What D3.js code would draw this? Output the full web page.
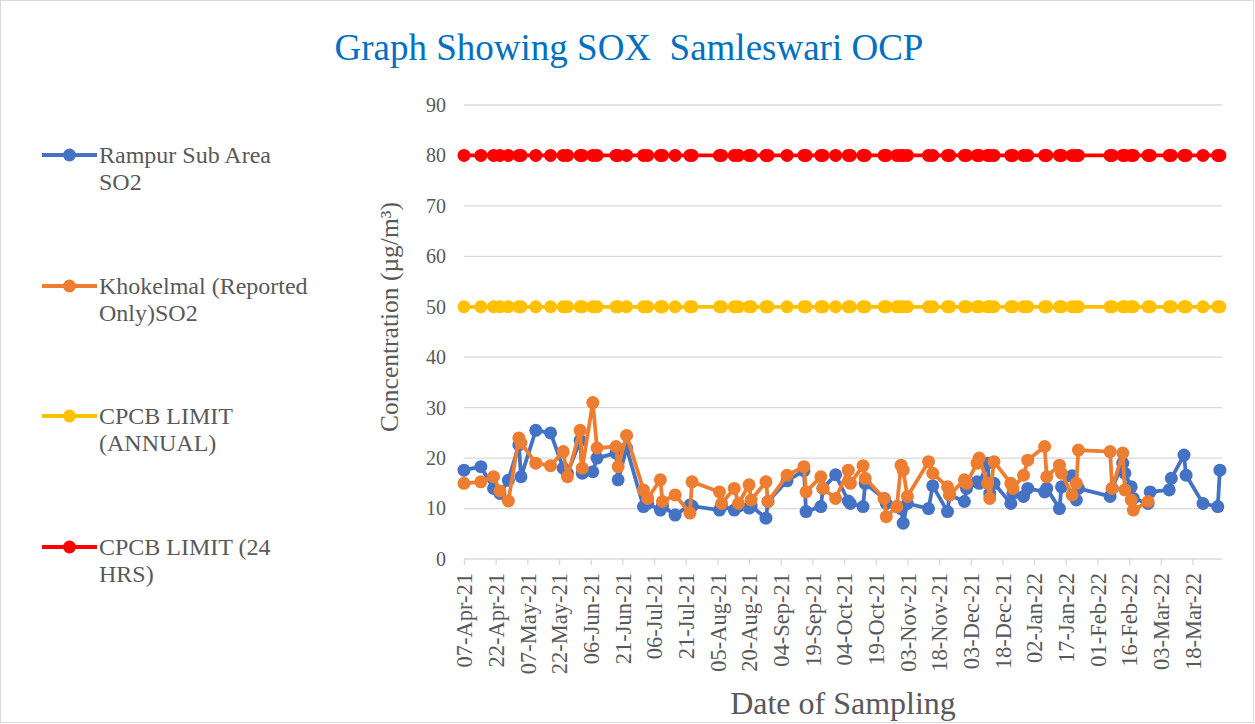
<!DOCTYPE html>
<html><head><meta charset="utf-8">
<script src="https://cdn.jsdelivr.net/npm/d3@7"></script>
<style>
html,body{margin:0;padding:0;background:#fff;}
svg{display:block;}
text{font-family:"Liberation Serif","Times New Roman",serif;}
</style></head><body>
<svg id="chart" width="1255" height="724"></svg>
<script>
const sampleDates = ["2021-04-07","2021-04-15","2021-04-21","2021-04-24","2021-04-28","2021-05-03","2021-05-04","2021-05-11","2021-05-18","2021-05-24","2021-05-26","2021-06-01","2021-06-02","2021-06-07","2021-06-09","2021-06-18","2021-06-19","2021-06-23","2021-07-01","2021-07-03","2021-07-09","2021-07-10","2021-07-16","2021-07-23","2021-07-24","2021-08-06","2021-08-07","2021-08-13","2021-08-15","2021-08-20","2021-08-21","2021-08-28","2021-08-29","2021-09-07","2021-09-15","2021-09-16","2021-09-23","2021-09-24","2021-09-30","2021-10-06","2021-10-07","2021-10-13","2021-10-14","2021-10-23","2021-10-24","2021-10-29","2021-10-31","2021-11-01","2021-11-03","2021-11-13","2021-11-15","2021-11-22","2021-11-23","2021-11-30","2021-12-01","2021-12-06","2021-12-07","2021-12-11","2021-12-12","2021-12-14","2021-12-22","2021-12-23","2021-12-28","2021-12-30","2022-01-07","2022-01-08","2022-01-14","2022-01-15","2022-01-20","2022-01-22","2022-01-23","2022-02-07","2022-02-08","2022-02-13","2022-02-14","2022-02-17","2022-02-18","2022-02-25","2022-02-26","2022-03-07","2022-03-08","2022-03-14","2022-03-15","2022-03-23","2022-03-30","2022-03-31"];
const rampurSO2 = [17.6,18.3,14,13,15.6,22.6,16.3,25.5,25,18,17,23.5,17,17.3,20,21,15.7,22,10.4,11,9.7,10.5,8.7,10.7,10.5,9.7,10.5,9.7,10.5,10.1,10.5,8.1,11.4,15.5,17.5,9.4,10.4,14,16.7,11.5,11,10.4,15,12,11,10.4,10,7.1,11,10,14.5,9.4,12.7,11.4,14,15.3,15,19,13,15,11,13,12.4,14,13.3,14,10,14.3,16.5,11.7,14,12.4,14,19,17,14.3,12,11,13.3,13.7,16,20.6,16.6,11,10.4,17.6];
const khokelmalSO2 = [15,15.3,16.3,13.5,11.5,24,23,19,18.5,21.3,16.3,25.5,18,31,22,22.3,18.3,24.5,13.7,12,15.7,11.4,12.7,9.1,15.3,13.3,11,14,11,14.7,11.7,15.3,11.4,16.6,18.3,13.3,16.3,14,12,17.6,15,18.5,16,12,8.4,10.4,18.6,17.6,12.4,19.3,17,14.3,12.7,15.7,15,19,20,15,12,19.3,15,14,16.6,19.6,22.3,16.3,18.6,17,12.7,15,21.6,21.3,14,21,13.7,11.7,9.7,11.4,null,null,null,null,null,null,null,null];
const cpcbAnnual = 50;
const cpcb24h = 80;
const yTicks = [0,10,20,30,40,50,60,70,80,90];
const xTickLabels = ["07-Apr-21","22-Apr-21","07-May-21","22-May-21","06-Jun-21","21-Jun-21","06-Jul-21","21-Jul-21","05-Aug-21","20-Aug-21","04-Sep-21","19-Sep-21","04-Oct-21","19-Oct-21","03-Nov-21","18-Nov-21","03-Dec-21","18-Dec-21","02-Jan-22","17-Jan-22","01-Feb-22","16-Feb-22","03-Mar-22","18-Mar-22"];
const seriesNames = [["Rampur Sub Area","SO2"],["Khokelmal (Reported","Only)SO2"],["CPCB LIMIT","(ANNUAL)"],["CPCB LIMIT (24","HRS)"]];
const colors = ["#4472C4","#ED7D31","#FFC000","#FF0000"];

const parse = d3.utcParse("%Y-%m-%d");
const parseTick = d3.utcParse("%d-%b-%y");
const dates = sampleDates.map(parse);

const svg = d3.select("#chart");
svg.append("rect").attr("x",0.5).attr("y",0.5).attr("width",1253).attr("height",722)
  .attr("fill","#fff").attr("stroke","#D9D9D9");

const x = d3.scaleUtc().domain([parse("2021-04-07"), parse("2022-04-01")]).range([464,1222]);
const y = d3.scaleLinear().domain([0,90]).range([559,105]);

// gridlines
svg.append("g").selectAll("line").data(yTicks.filter(d=>d>0)).join("line")
  .attr("x1",464).attr("x2",1222).attr("y1",d=>y(d)).attr("y2",d=>y(d))
  .attr("stroke","#D9D9D9").attr("stroke-width",1.3);

// y axis labels
const yAxis = d3.axisLeft(y).tickValues(yTicks).tickSize(0).tickPadding(0);
const gy = svg.append("g").attr("transform","translate(446,0)").call(yAxis);
gy.select(".domain").remove();
gy.selectAll("text").attr("font-size",20).attr("fill","#595959")
  .style("font-family","'Liberation Serif',serif");

// x axis
const xAxis = d3.axisBottom(x).tickValues(xTickLabels.map(parseTick)).tickSize(6)
  .tickFormat(d3.utcFormat("%d-%b-%y"));
const gx = svg.append("g").attr("transform","translate(0,559)").call(xAxis);
gx.select(".domain").attr("stroke","#D9D9D9").attr("stroke-width",1.3).attr("d","M464,0H1222");
gx.selectAll(".tick line").attr("stroke","#D9D9D9").attr("stroke-width",1.3);
gx.selectAll("text").attr("font-size",22.5).attr("fill","#595959")
  .style("font-family","'Liberation Serif',serif")
  .attr("transform","rotate(-90)").attr("text-anchor","end")
  .attr("x",-14).attr("y",0).attr("dy","0.35em");

// series
const seriesData = [
  sampleDates.map((d,i)=>({d:dates[i], v:rampurSO2[i]})),
  sampleDates.map((d,i)=>({d:dates[i], v:khokelmalSO2[i]})),
  sampleDates.map((d,i)=>({d:dates[i], v:cpcbAnnual})),
  sampleDates.map((d,i)=>({d:dates[i], v:cpcb24h}))
];
const line = d3.line().defined(p=>p.v!=null).x(p=>x(p.d)).y(p=>y(p.v));
seriesData.forEach((s,k)=>{
  const g = svg.append("g");
  g.append("path").datum(s).attr("d",line).attr("fill","none")
    .attr("stroke",colors[k]).attr("stroke-width",3.8).attr("stroke-linejoin","round");
  g.selectAll("circle").data(s.filter(p=>p.v!=null)).join("circle")
    .attr("cx",p=>x(p.d)).attr("cy",p=>y(p.v)).attr("r",6.5).attr("fill",colors[k]);
});

// title
svg.append("text").attr("x",629).attr("y",60).attr("text-anchor","middle")
  .attr("font-size",37).attr("fill","#0070C0").attr("xml:space","preserve")
  .text("Graph Showing SOX  Samleswari OCP");

// axis titles
svg.append("text").attr("transform","translate(398,317) rotate(-90)").attr("text-anchor","middle")
  .attr("font-size",25.5).attr("fill","#595959").text("Concentration (µg/m³)");
svg.append("text").attr("x",843).attr("y",714).attr("text-anchor","middle")
  .attr("font-size",32).attr("fill","#595959").text("Date of Sampling");

// legend
const legY = [155,286,416,547];
seriesNames.forEach((nm,k)=>{
  const g = svg.append("g").attr("transform",`translate(0,${legY[k]})`);
  g.append("line").attr("x1",42).attr("x2",97).attr("y1",0).attr("y2",0)
    .attr("stroke",colors[k]).attr("stroke-width",3.8);
  g.append("circle").attr("cx",69.5).attr("cy",0).attr("r",6.5).attr("fill",colors[k]);
  nm.forEach((t,j)=>{
    g.append("text").attr("x",99).attr("y",8+j*27).attr("font-size",24)
      .attr("fill","#595959").text(t);
  });
});
</script>
</body></html>
